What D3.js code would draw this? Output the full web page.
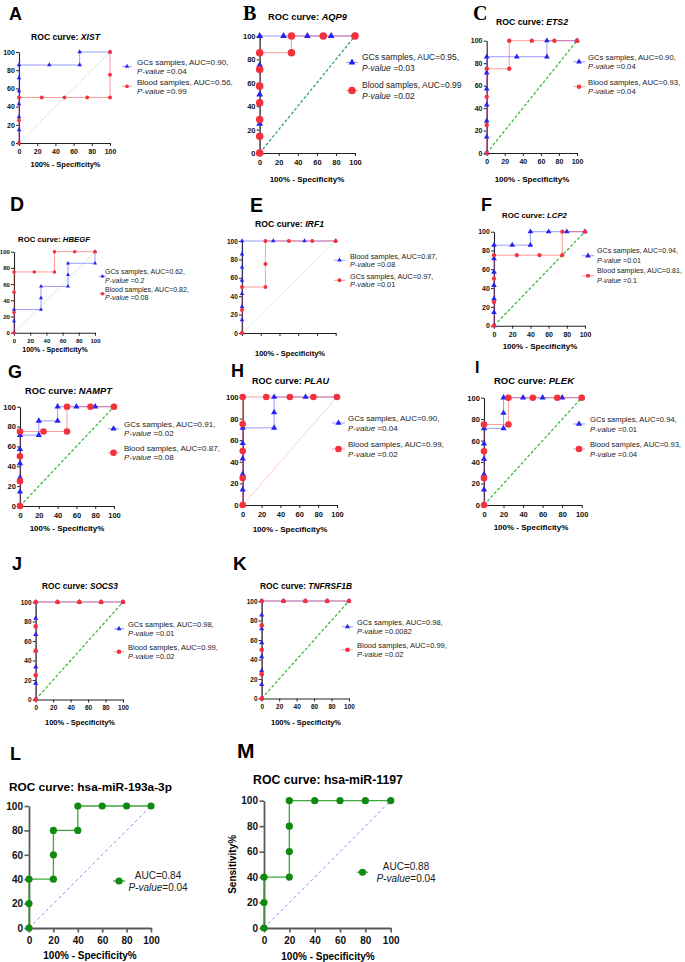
<!DOCTYPE html>
<html>
<head>
<meta charset="utf-8">
<script src="https://cdn.jsdelivr.net/npm/d3@7"></script>
<style>
  body { margin: 0; background: #fff; }
  text { font-family: "Liberation Sans", Arial, sans-serif; }
</style>
</head>
<body>
<script>
// tick values shared by every panel
var xTicks = [0, 20, 40, 60, 80, 100];
var yTicks = [0, 20, 40, 60, 80, 100];

// ROC points, [100% - specificity, sensitivity]
var xistGCs = [[0,0],[0,14.29],[0,28.57],[0,42.86],[0,57.14],[0,71.43],[0,85.71],[33.33,85.71],[66.67,85.71],[66.67,100],[100,100]];
var xistBlood = [[0,0],[0,25],[0,50],[25,50],[50,50],[75,50],[100,50],[100,75],[100,100]];
var aqp9GCs = [[0,0],[0,25],[0,50],[0,75],[0,100],[25,100],[50,100],[75,100],[100,100]];
var aqp9Blood = [[0,0],[0,14.29],[0,28.57],[0,42.86],[0,57.14],[0,71.43],[0,85.71],[33.33,85.71],[33.33,100],[66.67,100],[100,100]];
var ets2GCs = [[0,0],[0,14.29],[0,28.57],[0,42.86],[0,57.14],[0,71.43],[0,85.71],[33.33,85.71],[66.67,85.71],[66.67,100],[100,100]];
var ets2Blood = [[0,0],[0,25],[0,50],[0,75],[25,75],[25,100],[50,100],[75,100],[100,100]];
var hbegfGCs = [[0,0],[0,14.29],[0,28.57],[33.33,28.57],[33.33,42.86],[33.33,57.14],[66.67,57.14],[66.67,71.43],[66.67,85.71],[100,85.71],[100,100]];
var hbegfBlood = [[0,0],[0,25],[0,50],[0,75],[25,75],[50,75],[50,100],[75,100],[100,100]];
var irf1Blood = [[0,0],[0,14.29],[0,28.57],[0,42.86],[0,57.14],[0,71.43],[0,85.71],[0,100],[33.33,100],[66.67,100],[100,100]];
var irf1GCs = [[0,0],[0,25],[0,50],[25,50],[25,75],[25,100],[50,100],[75,100],[100,100]];
var lcp2GCs = [[0,0],[0,14.29],[0,28.57],[0,42.86],[0,57.14],[0,71.43],[0,85.71],[20,85.71],[40,85.71],[40,100],[60,100],[80,100],[100,100]];
var lcp2Blood = [[0,0],[0,25],[0,50],[0,75],[25,75],[50,75],[75,75],[75,100],[100,100]];
var namptGCs = [[0,0],[0,14.29],[0,28.57],[0,42.86],[0,57.14],[0,71.43],[20,71.43],[20,85.71],[40,85.71],[40,100],[60,100],[80,100],[100,100]];
var namptBlood = [[0,0],[0,25],[0,50],[0,75],[25,75],[50,75],[50,100],[75,100],[100,100]];
var plauGCs = [[0,0],[0,14.29],[0,28.57],[0,42.86],[0,57.14],[0,71.43],[33.33,71.43],[33.33,85.71],[33.33,100],[66.67,100],[100,100]];
var plauBlood = [[0,0],[0,25],[0,50],[0,75],[0,100],[25,100],[50,100],[75,100],[100,100]];
var plekGCs = [[0,0],[0,14.29],[0,28.57],[0,42.86],[0,57.14],[0,71.43],[20,71.43],[20,85.71],[20,100],[40,100],[60,100],[80,100],[100,100]];
var plekBlood = [[0,0],[0,25],[0,50],[0,75],[25,75],[25,100],[50,100],[75,100],[100,100]];
var socs3GCs = [[0,0],[0,16.67],[0,33.33],[0,50],[0,66.67],[0,83.33],[0,100],[25,100],[50,100],[75,100],[100,100]];
var socs3Blood = [[0,0],[0,25],[0,50],[0,75],[0,100],[25,100],[50,100],[75,100],[100,100]];
var tnfGCs = [[0,0],[0,14.29],[0,28.57],[0,42.86],[0,57.14],[0,71.43],[0,85.71],[0,100],[25,100],[50,100],[75,100],[100,100]];
var tnfBlood = [[0,0],[0,25],[0,50],[0,75],[0,100],[25,100],[50,100],[75,100],[100,100]];
var mir193 = [[0,0],[0,20],[0,40],[20,40],[20,60],[20,80],[40,80],[40,100],[60,100],[80,100],[100,100]];
var mir1197 = [[0,0],[0,20],[0,40],[20,40],[20,60],[20,80],[20,100],[40,100],[60,100],[80,100],[100,100]];

// legend texts: [first line, p-value]
var xistLegend = [["GCs samples, AUC=0.90,", " =0.04"], ["Blood samples, AUC=0.56,", " =0.99"]];
var aqp9Legend = [["GCs samples, AUC=0.95,", " =0.03"], ["Blood samples, AUC=0.99", " =0.02"]];
var ets2Legend = [["GCs samples, AUC=0.90,", " =0.04"], ["Blood samples, AUC=0.93,", " =0.04"]];
var hbegfLegend = [["GCs samples, AUC=0.62,", " =0.2"], ["Blood samples, AUC=0.82,", " =0.08"]];
var irf1Legend = [["Blood samples, AUC=0.87,", " =0.08"], ["GCs samples, AUC=0.97,", " =0.01"]];
var lcp2Legend = [["GCs samples, AUC=0.94,", " =0.01"], ["Blood samples, AUC=0.81,", " =0.1"]];
var namptLegend = [["GCs samples, AUC=0.91,", " =0.02"], ["Blood samples, AUC=0.87,", " =0.08"]];
var plauLegend = [["GCs samples, AUC=0.90,", " =0.04"], ["Blood samples, AUC=0.99,", " =0.02"]];
var plekLegend = [["GCs samples, AUC=0.94,", " =0.01"], ["Blood samples, AUC=0.93,", " =0.04"]];
var socs3Legend = [["GCs samples, AUC=0.98,", " =0.01"], ["Blood samples, AUC=0.99,", " =0.02"]];
var tnfLegend = [["GCs samples, AUC=0.98,", " =0.0082"], ["Blood samples, AUC=0.99,", " =0.02"]];
var mir193Legend = [["AUC=0.84", "=0.04"]];
var mir1197Legend = [["AUC=0.88", "=0.04"]];

var svg = d3.select("body").append("svg")
  .attr("width", 685)
  .attr("height", 962);

var colors = {
  tri: "#2424f2", triLine: "#4a4aff",
  circ: "#f3323e", circLine: "#ff4a4a",
  dot: "#118a11", dotLine: "#3fa83f"
};

var diagStyles = {
  light:  {stroke: "#8ccf8c", width: 0.6, dash: "1.5,1.2"},
  teal:   {stroke: "#1c9c70", width: 1.2, dash: "3,2"},
  green:  {stroke: "#2fb52f", width: 1.2, dash: "3,2"},
  pink:   {stroke: "#f07878", width: 0.7, dash: "1.2,1.2"},
  violet: {stroke: "#8888f5", width: 1.0, dash: "3,3"}
};

var panels = [
  {letter:"A", serif:false, lx:9, ly:20, ls:18, gene:"XIST", ital:true, tc:65.5, tb:40, tw:69,
   xr:[19,110], yr:[143,52], tfs:7, xl:[65.5,167,7.5], diag:"light", r:1.9, tw2:4,
   series:[[xistGCs,"tri"],[xistBlood,"circ"]], legText:xistLegend,
   leg:{sx:[122,132], tx:137, fs:8, lh:9.3, c:[61.7,81.7]}},
  {letter:"B", serif:true, lx:243, ly:19.5, ls:20, gene:"AQP9", ital:true, tc:307.5, tb:20, tw:79,
   xr:[259.7,355], yr:[153,36], tfs:7.5, xl:[307,182,8], diag:"teal", r:3.8, tw2:6,
   series:[[aqp9GCs,"tri"],[aqp9Blood,"circ"]], legText:aqp9Legend,
   leg:{sx:[346,358], tx:362, fs:8.5, lh:11, c:[57,85]}},
  {letter:"C", serif:true, lx:473, ly:19.5, ls:20, gene:"ETS2", ital:true, tc:532, tb:25, tw:72,
   xr:[486.7,577], yr:[153,40.7], tfs:7, xl:[532,182,8], diag:"green", r:2.2, tw2:5,
   series:[[ets2GCs,"tri"],[ets2Blood,"circ"]], legText:ets2Legend,
   leg:{sx:[573,585], tx:588, fs:7.7, lh:9.5, c:[57,82]}},
  {letter:"D", serif:false, lx:10, ly:211, ls:19.5, gene:"HBEGF", ital:true, tc:54, tb:242, tw:72,
   xr:[14,95], yr:[332.7,251.7], tfs:6, xl:[55,352,7], diag:"light", r:1.8, tw2:3.6,
   series:[[hbegfGCs,"tri"],[hbegfBlood,"circ"]], legText:hbegfLegend,
   leg:{sx:[99,106], tx:105, fs:7, lh:8.5, c:[272,289.5]}},
  {letter:"E", serif:false, lx:250, ly:212, ls:19.5, gene:"IRF1", ital:true, tc:289.5, tb:227, tw:69,
   xr:[242,335.7], yr:[333,241], tfs:6.5, noXLabels:true, xl:[290,356,7.5], diag:"light", r:2, tw2:4,
   series:[[irf1Blood,"tri"],[irf1GCs,"circ"]], legText:irf1Legend,
   leg:{sx:[334,345], tx:350, fs:7.3, lh:8.5, c:[256,276]}},
  {letter:"F", serif:false, lx:481, ly:211, ls:18, gene:"LCP2", ital:true, tc:534.5, tb:218, tw:65,
   xr:[494,585], yr:[325.7,231.7], tfs:7, xl:[540,349,8], diag:"green", r:2.1, tw2:5,
   series:[[lcp2GCs,"tri"],[lcp2Blood,"circ"]], legText:lcp2Legend,
   leg:{sx:[582,594], tx:597, fs:7.1, lh:9.5, c:[251,271]}},
  {letter:"G", serif:false, lx:8, ly:378, ls:18, gene:"NAMPT", ital:true, tc:68.5, tb:394, tw:87,
   xr:[20,114], yr:[506,406.7], tfs:7.5, xl:[67,531,8], diag:"green", r:3.3, tw2:5.5,
   series:[[namptGCs,"tri"],[namptBlood,"circ"]], legText:namptLegend,
   leg:{sx:[108,119], tx:124, fs:8, lh:9.5, c:[424,448]}},
  {letter:"H", serif:false, lx:231, ly:377, ls:18, gene:"PLAU", ital:true, tc:290.5, tb:384, tw:77,
   xr:[242.7,337], yr:[505,397], tfs:7.5, xl:[290,532,8], diag:"pink", r:3.3, tw2:5.5,
   series:[[plauGCs,"tri"],[plauBlood,"circ"]], legText:plauLegend,
   leg:{sx:[332,345], tx:348, fs:8, lh:10, c:[418,444]}},
  {letter:"I", serif:false, lx:475, ly:373, ls:16, gene:"PLEK", ital:true, tc:534, tb:384, tw:80,
   xr:[484,581.7], yr:[505,397.7], tfs:7.5, xl:[531,530,8], diag:"green", r:3.3, tw2:5.5,
   series:[[plekGCs,"tri"],[plekBlood,"circ"]], legText:plekLegend,
   leg:{sx:[573,585], tx:590, fs:7.6, lh:10, c:[419,444]}},
  {letter:"J", serif:false, lx:12, ly:570, ls:18, gene:"SOCS3", ital:true, tc:80, tb:589, tw:76,
   xr:[35.7,123], yr:[699.5,602], tfs:6.5, xl:[80,725,7.5], diag:"green", r:2.3, tw2:4.5,
   series:[[socs3GCs,"tri"],[socs3Blood,"circ"]], legText:socs3Legend,
   leg:{sx:[114,124], tx:128, fs:7.5, lh:9.5, c:[624,647]}},
  {letter:"K", serif:false, lx:233, ly:570, ls:19, gene:"TNFRSF1B", ital:true, tc:306, tb:589, tw:92,
   xr:[261.7,349], yr:[698.5,601], tfs:6.5, xl:[306,725,7.5], diag:"green", r:2.3, tw2:4.5,
   series:[[tnfGCs,"tri"],[tnfBlood,"circ"]], legText:tnfLegend,
   leg:{sx:[342,353], tx:357, fs:7.5, lh:9.5, c:[622,645]}},
  {letter:"L", serif:false, lx:10, ly:760, ls:18, gene:"hsa-miR-193a-3p", ital:false, tc:90.5, tb:791, tw:163,
   xr:[29,151], yr:[928,806], tfs:10, xl:[90,959,10], diag:"violet", r:3.6, big:true,
   series:[[mir193,"dot"]], legText:mir193Legend,
   leg:{sx:[113,125], tx:158, fs:10, lh:12, c:[875], center:true}},
  {letter:"M", serif:false, lx:237, ly:758, ls:21, gene:"hsa-miR-1197", ital:false, tc:328, tb:784, tw:150,
   xr:[264,390.7], yr:[928,800.7], tfs:10, xl:[328,960,10], diag:"violet", r:3.6, big:true, ylab:"Sensitivity%",
   series:[[mir1197,"dot"]], legText:mir1197Legend,
   leg:{sx:[357,368], tx:406, fs:10, lh:12.5, c:[866], center:true}}
];

function marker(type, p) {
  if (type === "tri") {
    return d3.symbol().type(d3.symbolTriangle).size(0.433 * p.tw2 * p.tw2 * 1.3)();
  }
  return d3.symbol().type(d3.symbolCircle).size(Math.PI * p.r * p.r)();
}

function drawPanel(p) {
  var g = svg.append("g");
  var x = d3.scaleLinear().domain([0, 100]).range(p.xr);
  var y = d3.scaleLinear().domain([0, 100]).range(p.yr);
  var axisColor = p.big ? "#5a5a5a" : "#222";
  var axisW = p.big ? 1.8 : 1.1;
  var ts = p.big ? 4.5 : 3;

  // panel letter
  g.append("text")
    .attr("x", p.lx).attr("y", p.ly)
    .attr("font-size", p.ls)
    .attr("font-weight", "bold")
    .style("font-family", p.serif ? "'Liberation Serif', 'Times New Roman', serif" : "'Liberation Sans', Arial, sans-serif")
    .text(p.letter);

  // title
  var title = g.append("text")
    .attr("x", p.tc).attr("y", p.tb)
    .attr("text-anchor", "middle")
    .attr("font-size", 10)
    .attr("font-weight", "bold");
  title.append("tspan").text("ROC curve: ");
  title.append("tspan").attr("font-style", p.ital ? "italic" : "normal").text(p.gene);
  var len = title.node().getComputedTextLength();
  title.attr("font-size", 10 * p.tw / len);

  // chance line
  var ds = diagStyles[p.diag];
  g.append("line")
    .attr("x1", x(0)).attr("y1", y(0))
    .attr("x2", x(100)).attr("y2", y(100))
    .attr("stroke", ds.stroke)
    .attr("stroke-width", ds.width)
    .attr("stroke-dasharray", ds.dash);

  // axes
  var xAxis = d3.axisBottom(x).tickValues(xTicks).tickSize(ts).tickSizeOuter(0)
    .tickPadding(p.big ? 4 : 3.2);
  if (p.noXLabels) xAxis.tickFormat("");
  var yAxis = d3.axisLeft(y).tickValues(yTicks).tickSize(ts).tickSizeOuter(0)
    .tickPadding(p.big ? 1.5 : 1.2);

  var gx = g.append("g")
    .attr("transform", "translate(0," + p.yr[0] + ")")
    .call(xAxis);
  var gy = g.append("g")
    .attr("transform", "translate(" + p.xr[0] + ",0)")
    .call(yAxis);

  [gx, gy].forEach(function(a) {
    a.attr("font-size", p.tfs).attr("font-weight", "bold")
      .attr("font-family", "'Liberation Sans', Arial, sans-serif");
    a.select(".domain").attr("stroke", axisColor).attr("stroke-width", axisW);
    a.selectAll(".tick line").attr("stroke", axisColor).attr("stroke-width", axisW * 0.9);
    a.selectAll(".tick text").attr("fill", "#111");
  });

  // x axis label
  g.append("text")
    .attr("x", p.xl[0]).attr("y", p.xl[1])
    .attr("text-anchor", "middle")
    .attr("font-size", p.xl[2])
    .attr("font-weight", "bold")
    .text("100% - Specificity%");

  if (p.ylab) {
    g.append("text")
      .attr("transform", "translate(236," + ((p.yr[0] + p.yr[1]) / 2) + ") rotate(-90)")
      .attr("text-anchor", "middle")
      .attr("font-size", 10)
      .attr("font-weight", "bold")
      .text(p.ylab);
  }

  // curves
  var line = d3.line().x(function(d) { return x(d[0]); }).y(function(d) { return y(d[1]); });
  p.series.forEach(function(s) {
    var type = s[1];
    g.append("path")
      .datum(s[0])
      .attr("d", line)
      .attr("fill", "none")
      .attr("stroke", colors[type + "Line"])
      .attr("stroke-opacity", type === "dot" ? 1 : 0.55)
      .attr("stroke-width", p.big ? 1.3 : 1);
  });
  p.series.forEach(function(s) {
    var type = s[1];
    g.selectAll(null)
      .data(s[0])
      .enter().append("path")
      .attr("transform", function(d) { return "translate(" + x(d[0]) + "," + y(d[1]) + ")"; })
      .attr("d", marker(type, p))
      .attr("fill", colors[type]);
  });

  // legend
  var L = p.leg;
  p.legText.forEach(function(t, i) {
    var type = p.series[i][1];
    var sy = L.c[i] + L.lh / 2;
    g.append("line")
      .attr("x1", L.sx[0]).attr("x2", L.sx[1])
      .attr("y1", sy).attr("y2", sy)
      .attr("stroke", colors[type + "Line"])
      .attr("stroke-opacity", type === "dot" ? 1 : 0.55)
      .attr("stroke-width", p.big ? 1.3 : 1);
    g.append("path")
      .attr("transform", "translate(" + ((L.sx[0] + L.sx[1]) / 2) + "," + sy + ")")
      .attr("d", marker(type, p))
      .attr("fill", colors[type]);

    var base = L.c[i] + 0.35 * L.fs;
    g.append("text")
      .attr("x", L.tx).attr("y", base)
      .attr("font-size", L.fs)
      .attr("text-anchor", L.center ? "middle" : "start")
      .attr("fill", "#222")
      .text(t[0]);
    var t2 = g.append("text")
      .attr("x", L.tx).attr("y", base + L.lh)
      .attr("font-size", L.fs)
      .attr("text-anchor", L.center ? "middle" : "start")
      .attr("fill", "#222");
    t2.append("tspan").attr("font-style", "italic").text("P-value");
    t2.append("tspan").text(t[1]);
  });
}

panels.forEach(drawPanel);
</script>
</body>
</html>
